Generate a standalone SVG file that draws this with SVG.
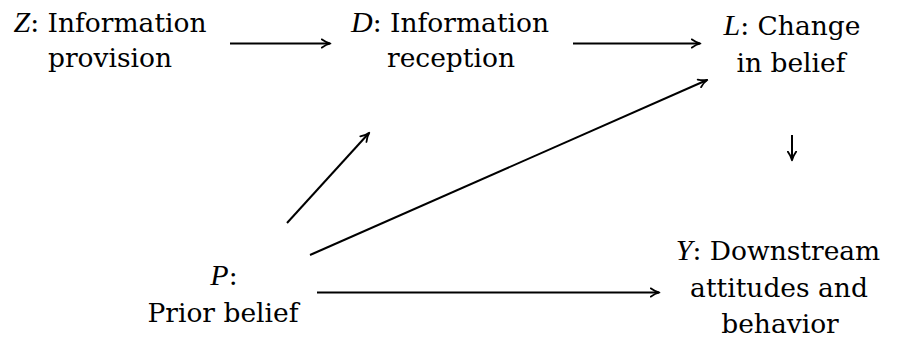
<svg xmlns="http://www.w3.org/2000/svg" width="901" height="347" viewBox="0 0 901 347">
<defs>
<style>
text{font-family:"DejaVu Serif","Liberation Serif",serif;font-size:26.5px;fill:#000;text-anchor:middle}
.v{font-family:"Liberation Serif",serif;font-style:italic;font-size:30px}
.c line{stroke:#000;stroke-width:2;fill:none;marker-end:url(#ah)}
</style>
<marker id="ah" viewBox="0 0 10 10" refX="8.6" refY="5" markerWidth="11" markerHeight="11" markerUnits="userSpaceOnUse" orient="auto">
<path d="M1,1.2 Q5,4.2 9,5 Q5,5.8 1,8.8" fill="none" stroke="#000" stroke-width="1.6" stroke-linecap="round" stroke-linejoin="round"/>
</marker>
</defs>
<rect width="901" height="347" fill="#fff"/>
<g id="Z"><text x="110" y="31.5"><tspan class="v">Z</tspan>: Information</text><text x="110" y="67">provision</text></g>
<g id="D"><text x="450" y="31.5"><tspan class="v">D</tspan>: Information</text><text x="451" y="67">reception</text></g>
<g id="L"><text x="792" y="34.5"><tspan class="v">L</tspan>: Change</text><text x="791" y="72">in belief</text></g>
<g id="P"><text x="224" y="285"><tspan class="v">P</tspan>:</text><text x="223" y="322">Prior belief</text></g>
<g id="Y"><text x="778" y="260"><tspan class="v">Y</tspan>: Downstream</text><text x="779" y="297">attitudes and</text><text x="780" y="333">behavior</text></g>
<g id="connectors" class="c">
<line x1="230" y1="43.5" x2="330" y2="43.5"/>
<line x1="573" y1="43.5" x2="700" y2="43.5"/>
<line x1="287" y1="223" x2="369" y2="133"/>
<line x1="310" y1="255" x2="707" y2="80"/>
<line x1="317" y1="292.5" x2="659" y2="292.5"/>
<line x1="792" y1="135" x2="792" y2="160"/>
</g>
</svg>
